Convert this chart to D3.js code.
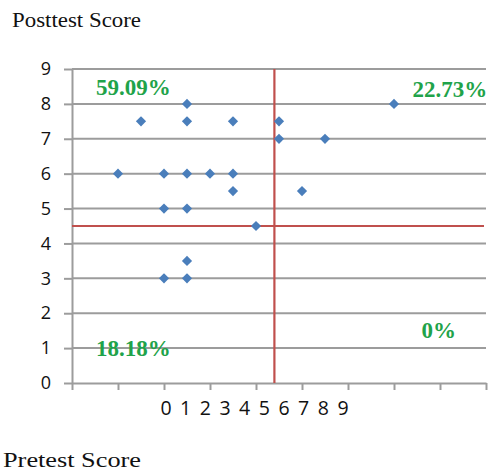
<!DOCTYPE html>
<html>
<head>
<meta charset="utf-8">
<script src="https://cdn.jsdelivr.net/npm/d3@7"></script>
<style>
  html, body { margin: 0; padding: 0; background: #fff; }
  svg { display: block; }
</style>
</head>
<body>
<svg id="chart" width="489" height="471"></svg>
<script>
// Pretest / posttest score pairs
const pretest  = [1, 1.5, 2, 2, 2, 2.5, 2.5, 2.5, 2.5, 2.5, 2.5, 3, 3.5, 3.5, 3.5, 4, 4.5, 4.5, 5, 5.5, 7];
const posttest = [6, 7.5, 6, 5, 3, 8, 7.5, 6, 5, 3.5, 3, 6, 7.5, 6, 5.5, 4.5, 7.5, 7, 5.5, 7, 8];

// Quadrant split values
const pretestCut = 4.4;
const posttestCut = 4.5;

// Quadrant shares
const quadrantLabels = ["59.09%", "22.73%", "18.18%", "0%"];
const quadrantAnchorX = [0.52, 7.4, 0.52, 7.6];
const quadrantAnchorY = [8.25, 8.2, 0.77, 1.3];

// Axis labels
const yTicks = [0, 1, 2, 3, 4, 5, 6, 7, 8, 9];
const xTickLabels = ["0", "1", "2", "3", "4", "5", "6", "7", "8", "9"];

const svg = d3.select("#chart");
const plotLeft = 72, plotRight = 486, plotTop = 69, plotBottom = 383;

const x = d3.scaleLinear().domain([0, 9]).range([plotLeft, plotRight]);
const y = d3.scaleLinear().domain([0, 9]).range([plotBottom, plotTop]);

const grid = "#9c9c9c";

// horizontal gridlines
svg.append("g").selectAll("line").data(yTicks.filter(d => d > 0)).join("line")
  .attr("x1", plotLeft).attr("x2", plotRight)
  .attr("y1", d => y(d)).attr("y2", d => y(d))
  .attr("stroke", grid).attr("stroke-width", 2);

// y axis
const yAxis = svg.append("g").attr("transform", `translate(${plotLeft},0)`)
  .call(d3.axisLeft(y).tickValues(yTicks).tickSizeInner(8).tickSizeOuter(0).tickPadding(13));
yAxis.select(".domain").attr("stroke", grid).attr("stroke-width", 2);
yAxis.selectAll(".tick line").attr("stroke", grid).attr("stroke-width", 2);
yAxis.selectAll(".tick text")
  .attr("font-family", "'Open Sans', sans-serif").attr("font-size", 18).attr("fill", "#111");

// x axis (tick marks only)
const xAxis = svg.append("g").attr("transform", `translate(0,${plotBottom})`)
  .call(d3.axisBottom(x).ticks(9).tickSizeInner(7).tickSizeOuter(0).tickFormat(""));
xAxis.select(".domain").attr("stroke", grid).attr("stroke-width", 2);
xAxis.selectAll(".tick line").attr("stroke", grid).attr("stroke-width", 2);

// x tick label row
const xl = d3.scalePoint().domain(xTickLabels).range([166, 343]);
svg.append("g").selectAll("text").data(xTickLabels).join("text")
  .attr("x", d => xl(d)).attr("y", 415)
  .attr("text-anchor", "middle")
  .attr("font-family", "'Open Sans', sans-serif").attr("font-size", 19.5).attr("fill", "#111")
  .text(d => d);

// quadrant split lines
const red = "#c0504d";
svg.append("line")
  .attr("x1", x(pretestCut)).attr("x2", x(pretestCut))
  .attr("y1", y(9)).attr("y2", y(0))
  .attr("stroke", red).attr("stroke-width", 2.2);
svg.append("line")
  .attr("x1", plotLeft).attr("x2", plotRight - 2)
  .attr("y1", y(posttestCut)).attr("y2", y(posttestCut))
  .attr("stroke", red).attr("stroke-width", 2.2);

// points
const diamond = d3.symbol().type(d3.symbolSquare).size(52);
svg.append("g").selectAll("path").data(pretest.map((p, i) => [p, posttest[i]])).join("path")
  .attr("d", diamond)
  .attr("transform", d => `translate(${x(d[0])},${y(d[1])}) rotate(45)`)
  .attr("fill", "#4a7ebb");

// quadrant percentages
svg.append("g").selectAll("text").data(quadrantLabels).join("text")
  .attr("x", (d, i) => x(quadrantAnchorX[i]))
  .attr("y", (d, i) => y(quadrantAnchorY[i]))
  .attr("font-family", "'Liberation Serif', 'Times New Roman', serif")
  .attr("font-weight", "bold").attr("font-size", 23).attr("fill", "#1fa34a")
  .text(d => d);

// axis titles
svg.append("text").attr("x", 12).attr("y", 27)
  .attr("font-family", "'Liberation Serif', 'Times New Roman', serif").attr("font-size", 20)
  .attr("textLength", 129).attr("lengthAdjust", "spacingAndGlyphs").attr("fill", "#111")
  .text("Posttest Score");
svg.append("text").attr("x", 3).attr("y", 467)
  .attr("font-family", "'Liberation Serif', 'Times New Roman', serif").attr("font-size", 20)
  .attr("textLength", 138).attr("lengthAdjust", "spacingAndGlyphs").attr("fill", "#111")
  .text("Pretest Score");
</script>
</body>
</html>
